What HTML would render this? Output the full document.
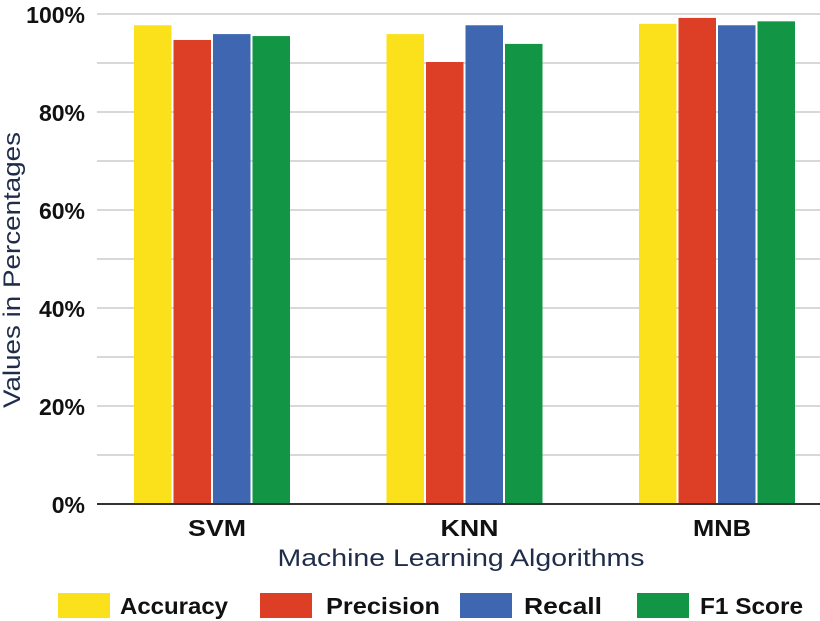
<!DOCTYPE html>
<html><head><meta charset="utf-8"><style>
body{margin:0;background:#fff;}
svg{display:block;font-family:"Liberation Sans",sans-serif;}
</style></head><body>
<svg id="chart" width="820" height="621">
<g id="grid"></g><g id="bars"></g><g id="axes"></g>
<text x="20" y="270" transform="rotate(-90 20 270)" text-anchor="middle" font-size="24" textLength="276" lengthAdjust="spacingAndGlyphs" fill="#1f2d4a">Values in Percentages</text>
<text x="461" y="566" text-anchor="middle" font-size="24" textLength="367" lengthAdjust="spacingAndGlyphs" fill="#1f2d4a">Machine Learning Algorithms</text>
<g id="legend"></g>
</svg>
<script>
const categories=["SVM","KNN","MNB"];
const seriesNames=["Accuracy","Precision","Recall","F1 Score"];
const accuracy=[97.7,95.9,98.0];
const precision=[94.7,90.2,99.2];
const recall=[95.9,97.7,97.7];
const f1=[95.5,93.9,98.5];
const yTicks=[0,20,40,60,80,100];
const colors=["#fbe11b","#dd3e26","#3f67b1","#129646"];
const series=[accuracy,precision,recall,f1];
const NS="http://www.w3.org/2000/svg";
function y(v){return 504-v*4.9;}
function cx(i){return 212+i*252.5;}
function mk(tag,attrs,parent,text){const e=document.createElementNS(NS,tag);for(const k in attrs)e.setAttribute(k,attrs[k]);if(text!==undefined)e.textContent=text;document.getElementById(parent).appendChild(e);return e;}
for(let v=10;v<=100;v+=10){
  const g=mk("line",{x1:97,x2:820,y1:y(v),y2:y(v),stroke:"#d8d8d8","stroke-width":2},"grid");
  
  
}
yTicks.forEach(v=>{
  const t=mk("text",{x:85,y:y(v)+9,"text-anchor":"end","font-size":23,"font-weight":"bold",fill:"#111"},"axes",v+"%");
  
  
});
const ax=mk("line",{x1:97,x2:820,y1:504,y2:504,stroke:"#333","stroke-width":2},"axes");


categories.forEach((c,i)=>{
  const t=mk("text",{x:cx(i)+5,y:536,"text-anchor":"middle","font-size":23,"font-weight":"bold",textLength:58,lengthAdjust:"spacingAndGlyphs",fill:"#111"},"axes",c);
  
  
  series.forEach((s,j)=>{
    const bw=37.5,x0=cx(i)-78+j*39.5;
    const r=mk("rect",{x:x0,y:y(s[i]),width:bw,height:504-y(s[i]),fill:colors[j]},"bars");
    
    
  });
});
const lx=[58,260,460,637];
const tx=[120,326,524,700];
const tw=[108,114,78,103];
seriesNames.forEach((n,j)=>{
  const r=mk("rect",{x:lx[j],y:593,width:52,height:25,fill:colors[j]},"legend");
  
  
  const t=mk("text",{x:tx[j],y:614,"font-size":23,"font-weight":"bold",textLength:tw[j],lengthAdjust:"spacingAndGlyphs",fill:"#111"},"legend",n);
  
  
});
</script>
</body></html>
